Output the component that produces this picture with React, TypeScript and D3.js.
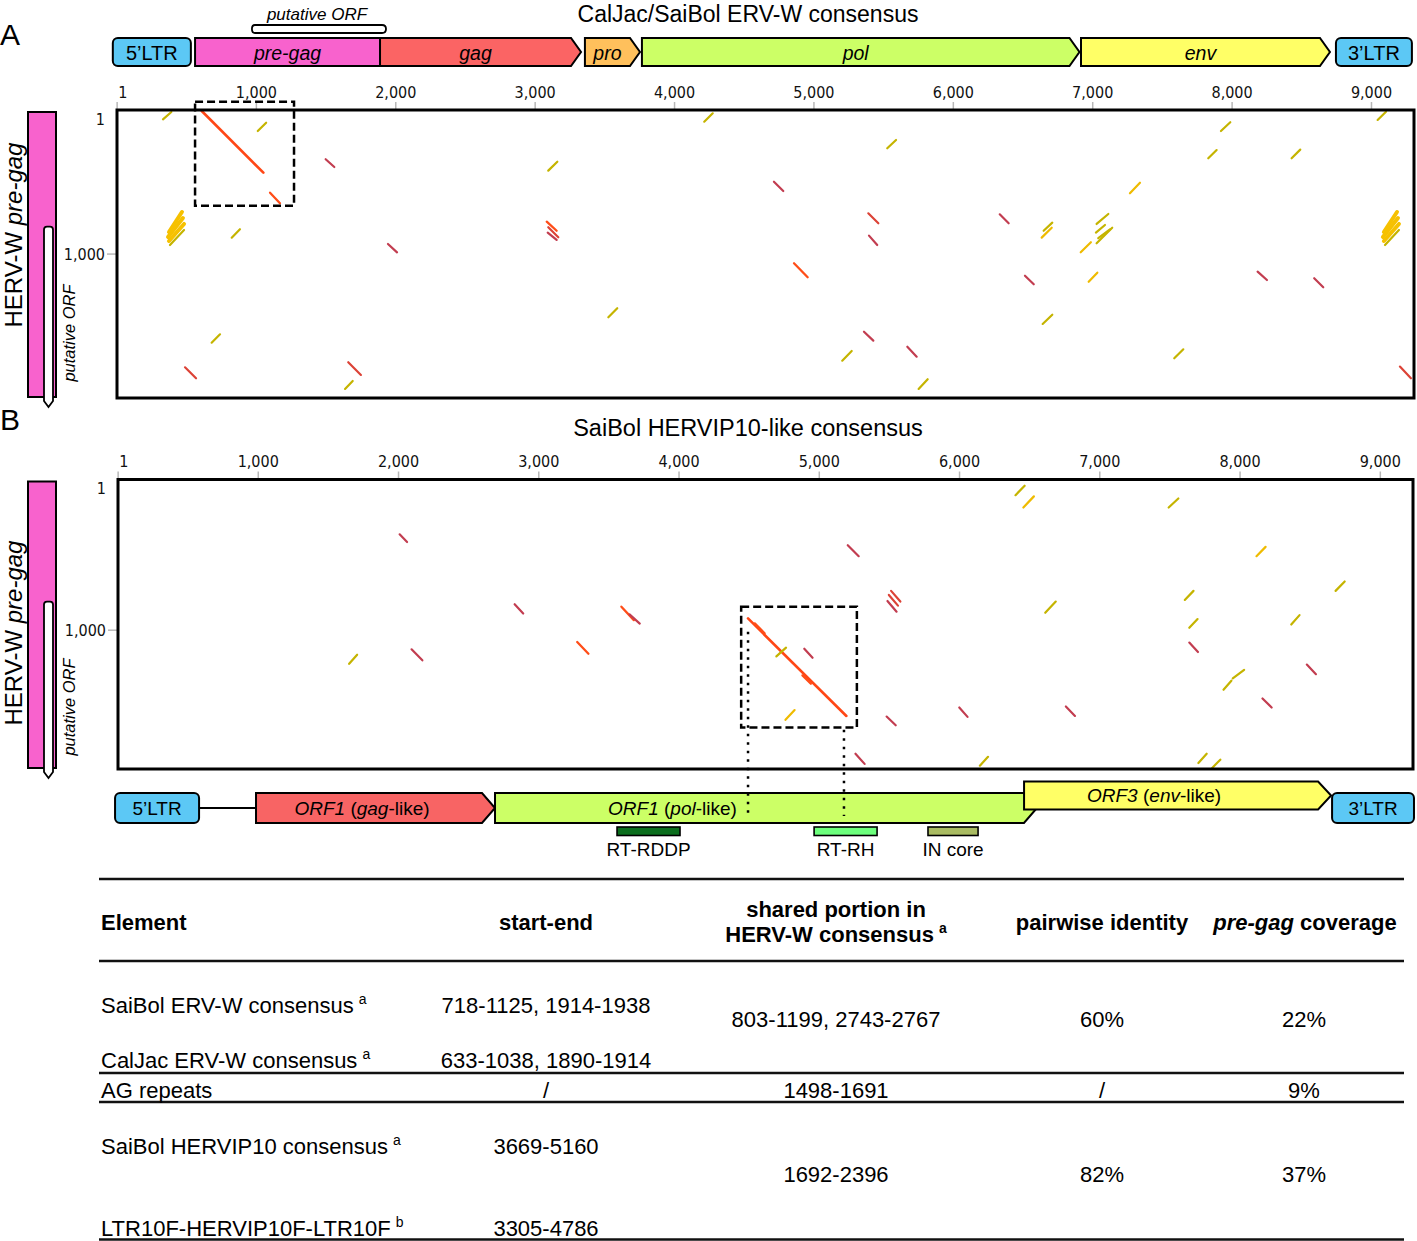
import React from 'react';
import * as d3 from 'd3';

type Seg = [number, number, number, number, string];

const FONT = "'Liberation Sans', Arial, Helvetica, sans-serif";
const TICKFONT = "'DejaVu Sans Condensed', 'DejaVu Sans', sans-serif";

// ---------- axis ticks ----------
const xTickValues = [1, 1000, 2000, 3000, 4000, 5000, 6000, 7000, 8000, 9000];
const yTickValues = [1, 1000];

// ---------- Panel A dot plot segments: [x1, y1, x2, y2, kind] (sequence positions) ----------
const dotsA: Seg[] = [
  [330, 65, 390, 14, 'rv'],
  [608, 7, 1050, 435, 'main'],
  [1010, 146, 1070, 88, 'rv'],
  [1098, 574, 1169, 647, 'hi'],
  [1497, 342, 1559, 396, 'lo'],
  [373, 847, 466, 708, 'rb'],
  [366, 881, 473, 750, 'rb'],
  [373, 909, 481, 791, 'rb'],
  [380, 937, 481, 833, 'rv'],
  [823, 886, 882, 828, 'rv'],
  [1944, 930, 2009, 988, 'lo'],
  [679, 1615, 739, 1557, 'rv'],
  [488, 1786, 567, 1862, 'mid'],
  [1659, 1751, 1750, 1839, 'mid'],
  [1636, 1936, 1691, 1881, 'rv'],
  [4213, 81, 4274, 23, 'rv'],
  [5526, 266, 5589, 208, 'rv'],
  [3094, 421, 3159, 359, 'rv'],
  [4713, 498, 4780, 562, 'lo'],
  [3083, 775, 3154, 838, 'hi'],
  [3094, 814, 3166, 883, 'mid'],
  [3090, 851, 3154, 902, 'lo'],
  [5390, 717, 5462, 786, 'mid'],
  [5395, 872, 5454, 937, 'lo'],
  [4857, 1064, 4955, 1161, 'hi'],
  [3525, 1439, 3589, 1376, 'rv'],
  [5359, 1539, 5426, 1601, 'lo'],
  [5203, 1740, 5271, 1673, 'rv'],
  [5670, 1643, 5737, 1712, 'lo'],
  [5751, 1936, 5816, 1869, 'rv'],
  [9044, 69, 9104, 12, 'rv'],
  [7920, 146, 7987, 85, 'rv'],
  [7829, 335, 7889, 278, 'rv'],
  [8427, 335, 8489, 275, 'rv'],
  [7267, 578, 7339, 505, 'ry'],
  [6333, 724, 6397, 786, 'lo'],
  [6648, 838, 6710, 782, 'rv'],
  [6634, 886, 6706, 817, 'ry'],
  [7028, 791, 7112, 722, 'rv'],
  [7023, 851, 7088, 798, 'rv'],
  [7028, 925, 7140, 817, 'rv'],
  [7040, 890, 7124, 828, 'rv'],
  [6914, 988, 6987, 918, 'ry'],
  [6514, 1150, 6577, 1210, 'lo'],
  [6971, 1192, 7033, 1129, 'ry'],
  [6641, 1485, 6710, 1421, 'rv'],
  [7585, 1723, 7650, 1661, 'rv'],
  [8183, 1122, 8250, 1180, 'lo'],
  [8589, 1168, 8654, 1230, 'lo'],
  [9089, 847, 9183, 708, 'rb'],
  [9082, 881, 9190, 750, 'rb'],
  [9089, 909, 9197, 791, 'rb'],
  [9097, 937, 9197, 833, 'rv'],
  [9204, 1781, 9283, 1862, 'mid'],
];

// ---------- Panel B dot plot segments ----------
const dotsB: Seg[] = [
  [2008, 364, 2061, 415, 'lo'],
  [2828, 828, 2889, 889, 'lo'],
  [3589, 844, 3678, 933, 'hi'],
  [3647, 895, 3720, 956, 'lo'],
  [3274, 1078, 3354, 1156, 'hi'],
  [2093, 1127, 2170, 1200, 'lo'],
  [1648, 1223, 1705, 1163, 'rv'],
  [6399, 104, 6464, 41, 'rv'],
  [6455, 186, 6530, 112, 'ry'],
  [7491, 186, 7560, 126, 'rv'],
  [5203, 436, 5281, 509, 'lo'],
  [8117, 509, 8182, 447, 'ry'],
  [8681, 739, 8746, 677, 'rv'],
  [7606, 799, 7668, 739, 'rv'],
  [5512, 739, 5578, 810, 'mid'],
  [5496, 766, 5561, 837, 'mid'],
  [5486, 806, 5551, 877, 'lo'],
  [6611, 884, 6686, 810, 'rv'],
  [7638, 984, 7697, 926, 'rv'],
  [8365, 962, 8424, 900, 'rv'],
  [7638, 1082, 7700, 1145, 'lo'],
  [8476, 1228, 8541, 1292, 'lo'],
  [7948, 1319, 8029, 1263, 'rv'],
  [7882, 1395, 7938, 1335, 'rv'],
  [8160, 1453, 8225, 1513, 'lo'],
  [5998, 1513, 6057, 1575, 'lo'],
  [6758, 1506, 6823, 1569, 'lo'],
  [5480, 1573, 5545, 1631, 'lo'],
  [4492, 922, 5193, 1569, 'main'],
  [4540, 955, 4610, 1020, 'hi'],
  [4880, 1300, 4940, 1355, 'hi'],
  [4694, 1174, 4763, 1116, 'rv'],
  [4893, 1123, 4952, 1183, 'lo'],
  [4759, 1595, 4824, 1530, 'ry'],
  [5258, 1820, 5323, 1887, 'lo'],
  [6145, 1899, 6203, 1840, 'rv'],
  [7703, 1881, 7762, 1820, 'rv'],
  [7801, 1914, 7859, 1859, 'rv'],
];

// ---------- genome annotations (sequence positions) ----------
const genesA = [
  { name: '5’LTR', start: -30, end: 530, kind: 'ltr', italic: false },
  { name: 'pre-gag', start: 560, end: 1887, kind: 'rect', italic: true },
  { name: 'gag', start: 1887, end: 3329, kind: 'arrow', italic: true },
  { name: 'pro', start: 3357, end: 3752, kind: 'arrow', italic: true },
  { name: 'pol', start: 3766, end: 6905, kind: 'arrow', italic: true },
  { name: 'env', start: 6916, end: 8702, kind: 'arrow', italic: true },
  { name: '3’LTR', start: 8745, end: 9290, kind: 'ltr', italic: false },
];
const orfTopA = [968, 1930];
const orfLeft = [810];
const zoomBoxA = [560, -58, 1270, 664];

const genesB = [
  { name: '5’LTR', start: -21, end: 578, kind: 'ltr' },
  { name: 'ORF1|gag', start: 984, end: 2688, kind: 'arrow' },
  { name: 'ORF1|pol', start: 2688, end: 6552, kind: 'arrow' },
  { name: 'ORF3|env', start: 6460, end: 8649, kind: 'arrow' },
  { name: '3’LTR', start: 8656, end: 9240, kind: 'ltr' },
];
const domainNames = ['RT-RDDP', 'RT-RH', 'IN core'];
const domainStarts = [3558, 4963, 5775];
const domainEnds = [4007, 5412, 6132];
const zoomBoxB = [4443, 844, 5268, 1646];
const guideXB = [4492, 5176];
const guideStartYB = [1010, 1660];

// ---------- table ----------
const elementNames = ['SaiBol ERV-W consensus', 'CalJac ERV-W consensus', 'AG repeats', 'SaiBol HERVIP10 consensus', 'LTR10F-HERVIP10F-LTR10F'];
const elementNotes = ['a', 'a', '', 'a', 'b'];
const startEnds = ['718-1125, 1914-1938', '633-1038, 1890-1914', '/', '3669-5160', '3305-4786'];
const sharedPortions = ['803-1199, 2743-2767', '1498-1691', '1692-2396'];
const identities = ['60%', '/', '82%'];
const coverages = ['22%', '9%', '37%'];

// ---------- styles ----------
const segColor: Record<string, string> = {
  main: '#ff4716', hi: '#ff4d18', mid: '#dc4337', lo: '#c23d50', rv: '#c5b400', ry: '#efbb00', rb: '#f6c100',
};
const segWidth: Record<string, number> = { main: 2.6, hi: 2.3, mid: 2.2, lo: 2.2, rv: 2.2, ry: 2.2, rb: 4 };
const geneColorA: Record<string, string> = {
  '5’LTR': '#5cc8f5', 'pre-gag': '#f862cd', gag: '#fb6464', pro: '#ffc05c', pol: '#ccff66', env: '#ffff66', '3’LTR': '#5cc8f5',
};
const geneColorB: Record<string, string> = {
  '5’LTR': '#5cc8f5', 'ORF1|gag': '#f86464', 'ORF1|pol': '#ccff66', 'ORF3|env': '#ffff66', '3’LTR': '#5cc8f5',
};
const domainColors = ['#0b6e1d', '#6cff7c', '#a9bb62'];

const fmt = d3.format(',');

const xA = d3.scaleLinear().domain([0, 9305]).range([117, 1414]);
const yA = d3.scaleLinear().domain([0, 1999]).range([110, 398]);
const xB = d3.scaleLinear().domain([0, 9233]).range([118, 1413]);
const yB = d3.scaleLinear().domain([0, 1921]).range([479.5, 769]);

function arrowPath(x0: number, x1: number, yTop: number, h: number, pt: number) {
  return `M${x0},${yTop} L${x1 - pt},${yTop} L${x1},${yTop + h / 2} L${x1 - pt},${yTop + h} L${x0},${yTop + h} Z`;
}

function DotPlot({ x, y, dots, box }: { x: any; y: any; dots: Seg[]; box: number[] }) {
  const [l, r] = x.range();
  const [t, b] = y.range();
  return (
    <g>
      {xTickValues.map((v) => (
        <g key={v}>
          <line x1={x(v)} x2={x(v)} y1={t - 8} y2={t} stroke="#b8b8b8" strokeWidth={1.5} />
          <text x={v === 1 ? x(v) + 1 : x(v)} y={t - 18} textAnchor={v === 1 ? 'start' : 'middle'} dominantBaseline="central"
            fontFamily={TICKFONT} fontSize={16} fill="#111">{fmt(v)}</text>
        </g>
      ))}
      {yTickValues.map((v) => (
        <g key={v}>
          {v !== 1 && <line x1={l - 10} x2={l} y1={y(v)} y2={y(v)} stroke="#b8b8b8" strokeWidth={1.5} />}
          <text x={l - 12} y={v === 1 ? t + 9 : y(v)} textAnchor="end" dominantBaseline="central"
            fontFamily={TICKFONT} fontSize={16} fill="#111">{fmt(v)}</text>
        </g>
      ))}
      {dots.map((d, i) => (
        <line key={i} x1={x(d[0])} y1={y(d[1])} x2={x(d[2])} y2={y(d[3])} stroke={segColor[d[4]]}
          strokeWidth={segWidth[d[4]]} strokeLinecap="round" />
      ))}
      <rect x={l} y={t} width={r - l} height={b - t} fill="none" stroke="#000" strokeWidth={3} />
      <rect x={x(box[0])} y={y(box[1])} width={x(box[2]) - x(box[0])} height={y(box[3]) - y(box[1])}
        fill="none" stroke="#000" strokeWidth={2.5} strokeDasharray="8,4" />
    </g>
  );
}

function LeftBar({ y, hervCenter, orfCenter }: { y: any; hervCenter: number; orfCenter: number }) {
  const [t, b] = y.range();
  const yt = y(orfLeft[0]);
  const yb = b + 3;
  return (
    <g>
      <rect x={28} y={t + 2} width={28} height={b - t - 3} fill="#f862cd" stroke="#000" strokeWidth={2} />
      <path d={`M44,${yt + 3} Q44,${yt} 47,${yt} H50 Q53,${yt} 53,${yt + 3} V${yb} L48.5,${yb + 6} L44,${yb} Z`}
        fill="#fff" stroke="#000" strokeWidth={1.8} />
      <text transform={`translate(13,${hervCenter}) rotate(-90)`} textAnchor="middle" dominantBaseline="central" fontSize={24}>
        HERV-W <tspan fontStyle="italic">pre-gag</tspan>
      </text>
      <text transform={`translate(69,${orfCenter}) rotate(-90)`} textAnchor="middle" dominantBaseline="central"
        fontSize={16.5} fontStyle="italic">putative ORF</text>
    </g>
  );
}

export default function App() {
  const gTop = 38, gH = 28, ptA = 10;
  const bTop = 793, bH = 30, ptB = 13;
  const labelDxB: Record<string, number> = { 'ORF1|gag': -7, 'ORF1|pol': -87, 'ORF3|env': -17 };
  const labelYB: Record<string, number> = { 'ORF3|env': 795 };
  const rules = [879, 961, 1073, 1102, 1239.5];
  const elementY = [1005, 1060, 1090, 1146, 1228];
  const groupY = [1019, 1090, 1174];
  const col = { el: 101, se: 546, sh: 836, id: 1102, cv: 1304 };

  return (
    <div style={{ position: 'absolute', left: 0, top: 0 }}>
      <svg width={1417} height={1241} style={{ display: 'block' }} fontFamily={FONT}>
        <rect width={1417} height={1241} fill="#fff" />

        {/* Panel labels and titles */}
        <text x={0} y={34} fontSize={30} dominantBaseline="central">A</text>
        <text x={0} y={419} fontSize={30} dominantBaseline="central">B</text>
        <text x={748} y={21.5} fontSize={23} textAnchor="middle">CalJac/SaiBol ERV-W consensus</text>
        <text x={748} y={428} fontSize={23.5} textAnchor="middle" dominantBaseline="central">SaiBol HERVIP10-like consensus</text>

        {/* Top genome map (A) */}
        <path d={`M${xA(orfTopA[0]) + 3},25 H${xA(orfTopA[1]) - 4} Q${xA(orfTopA[1])},25 ${xA(orfTopA[1])},29 Q${xA(orfTopA[1])},33 ${xA(orfTopA[1]) - 4},33 H${xA(orfTopA[0]) + 3} Q${xA(orfTopA[0])},33 ${xA(orfTopA[0])},29 Q${xA(orfTopA[0])},25 ${xA(orfTopA[0]) + 3},25 Z`}
          fill="#fff" stroke="#000" strokeWidth={1.8} />
        <text x={(xA(orfTopA[0]) + xA(orfTopA[1])) / 2 - 2} y={14} fontSize={17} fontStyle="italic" textAnchor="middle" dominantBaseline="central">putative ORF</text>
        {genesA.map((g) => {
          const x0 = xA(g.start), x1 = xA(g.end);
          const fill = geneColorA[g.name];
          const shape = g.kind === 'ltr'
            ? <rect x={x0} y={gTop} width={x1 - x0} height={gH} rx={5} fill={fill} stroke="#000" strokeWidth={2} />
            : g.kind === 'rect'
              ? <rect x={x0} y={gTop} width={x1 - x0} height={gH} fill={fill} stroke="#000" strokeWidth={2} />
              : <path d={arrowPath(x0, x1, gTop, gH, ptA)} fill={fill} stroke="#000" strokeWidth={2} />;
          const cx = g.kind === 'arrow' ? (x0 + x1 - ptA) / 2 : (x0 + x1) / 2;
          return (
            <g key={g.name}>
              {shape}
              <text x={cx} y={gTop + gH / 2 + 1} fontSize={g.italic ? 19.5 : 20} fontStyle={g.italic ? 'italic' : 'normal'}
                textAnchor="middle" dominantBaseline="central">{g.name}</text>
            </g>
          );
        })}

        {/* Dot plots */}
        <DotPlot x={xA} y={yA} dots={dotsA} box={zoomBoxA} />
        <DotPlot x={xB} y={yB} dots={dotsB} box={zoomBoxB} />
        <LeftBar y={yA} hervCenter={235} orfCenter={333} />
        <LeftBar y={yB} hervCenter={633} orfCenter={707} />

        {/* Bottom genome map (B) */}
        <line x1={xB(genesB[0].end)} x2={xB(genesB[1].start)} y1={bTop + bH / 2} y2={bTop + bH / 2} stroke="#000" strokeWidth={1.8} />
        {genesB.map((g) => {
          const x0 = xB(g.start), x1 = xB(g.end);
          const fill = geneColorB[g.name];
          const raised = g.name === 'ORF3|env';
          const yt = raised ? 781.5 : bTop;
          const h = raised ? 28 : bH;
          const shape = g.kind === 'ltr'
            ? <rect x={x0} y={yt} width={x1 - x0} height={h} rx={5} fill={fill} stroke="#000" strokeWidth={2} />
            : <path d={arrowPath(x0, x1, yt, h, ptB)} fill={fill} stroke="#000" strokeWidth={2} />;
          const cx = (g.kind === 'arrow' ? (x0 + x1 - ptB) / 2 : (x0 + x1) / 2) + (labelDxB[g.name] || 0);
          const ly = labelYB[g.name] || bTop + bH / 2;
          let label: React.ReactNode = g.name;
          if (g.name.includes('|')) {
            const [orf, gene] = g.name.split('|');
            label = (<>
              <tspan fontStyle="italic">{orf}</tspan> (<tspan fontStyle="italic">{gene}</tspan>-like)
            </>);
          }
          return (
            <g key={g.name}>
              {shape}
              <text x={cx} y={ly} fontSize={19} textAnchor="middle" dominantBaseline="central">{label}</text>
            </g>
          );
        })}
        {domainNames.map((n, i) => {
          const x0 = xB(domainStarts[i]), x1 = xB(domainEnds[i]);
          return (
            <g key={n}>
              <rect x={x0} y={827} width={x1 - x0} height={8.5} fill={domainColors[i]} stroke="#000" strokeWidth={1.6} />
              <text x={(x0 + x1) / 2} y={849} fontSize={19} textAnchor="middle" dominantBaseline="central">{n}</text>
            </g>
          );
        })}
        {guideXB.map((gx, i) => (
          <line key={gx} x1={xB(gx)} x2={xB(gx)} y1={yB(guideStartYB[i])} y2={816} stroke="#000" strokeWidth={2.5} strokeDasharray="2.5,6" />
        ))}

        {/* Table */}
        {rules.map((ry) => (
          <line key={ry} x1={99} x2={1404} y1={ry} y2={ry} stroke="#111" strokeWidth={2.6} />
        ))}
        <g fontWeight="bold" fontSize={22}>
          <text x={col.el} y={922} dominantBaseline="central">Element</text>
          <text x={col.se} y={922} textAnchor="middle" dominantBaseline="central">start-end</text>
          <text x={col.sh} y={909} textAnchor="middle" dominantBaseline="central">shared portion in</text>
          <text x={col.sh} y={934} textAnchor="middle" dominantBaseline="central">HERV-W consensus<tspan fontSize={14} dx={5} dy={-6}>a</tspan></text>
          <text x={col.id} y={922} textAnchor="middle" dominantBaseline="central">pairwise identity</text>
          <text x={col.cv + 1} y={922} textAnchor="middle" dominantBaseline="central"><tspan fontStyle="italic">pre-gag</tspan> coverage</text>
        </g>
        <g fontSize={22}>
          {elementNames.map((n, i) => (
            <g key={n}>
              <text x={col.el} y={elementY[i]} dominantBaseline="central">
                {n}{elementNotes[i] ? <tspan fontSize={14} dx={5} dy={-6}>{elementNotes[i]}</tspan> : null}
              </text>
              <text x={col.se} y={elementY[i]} textAnchor="middle" dominantBaseline="central">{startEnds[i]}</text>
            </g>
          ))}
          {sharedPortions.map((s, i) => (
            <g key={s}>
              <text x={col.sh} y={groupY[i]} textAnchor="middle" dominantBaseline="central">{s}</text>
              <text x={col.id} y={groupY[i]} textAnchor="middle" dominantBaseline="central">{identities[i]}</text>
              <text x={col.cv} y={groupY[i]} textAnchor="middle" dominantBaseline="central">{coverages[i]}</text>
            </g>
          ))}
        </g>
      </svg>
    </div>
  );
}
